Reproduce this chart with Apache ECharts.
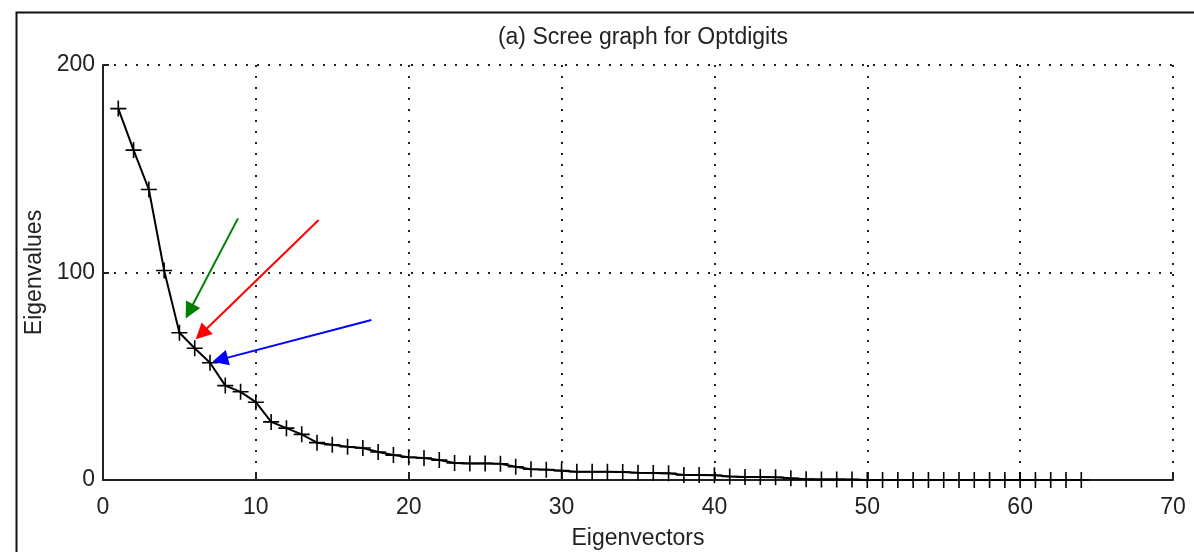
<!DOCTYPE html>
<html>
<head>
<meta charset="utf-8">
<script src="https://cdn.jsdelivr.net/npm/echarts@6/dist/echarts.min.js"></script>
<style>
html,body{margin:0;padding:0;background:#fff;}
#chart{width:1194px;height:552px;}
</style>
</head>
<body>
<div id="chart"></div>
<script>
// Component index (Eigenvectors) and eigenvalues
var eigenvectors = [];
for (var i = 1; i <= 64; i++) eigenvectors.push(i);
var eigenvalues = [179, 159, 140, 101, 71, 63.5, 56.5, 45.5, 42.5, 37.5,
  28, 25, 22, 18, 17, 16, 15.4, 13.5, 12, 11,
  10.6, 9.6, 8.2, 8, 8, 7.8, 6.4, 5.2, 5.0, 4.5,
  4.0, 4.0, 4.0, 3.8, 3.5, 3.4, 3.2, 2.4, 2.4, 2.3,
  1.7, 1.5, 1.4, 1.3, 0.8, 0.4, 0.3, 0.3, 0.2, 0,
  0, 0, 0, 0, 0, 0, 0, 0, 0, 0,
  0, 0, 0, 0];
var xTicks = [0, 10, 20, 30, 40, 50, 60, 70];
var yTicks = [0, 100, 200];
// Annotation arrows: [startX, startY] -> [headX, headY] in data units
var arrowGreen = [[8.83, 126.1], [5.65, 81.3]];
var arrowRed = [[14.11, 125.3], [6.44, 70.5]];
var arrowBlue = [[17.56, 77.1], [7.66, 58.0]];

var points = eigenvectors.map(function (x, i) { return [x, eigenvalues[i]]; });

var font = 'Liberation Sans, Arial, sans-serif';
var chart = echarts.init(document.getElementById('chart'));
chart.setOption({
  animation: false,
  backgroundColor: '#fff',
  title: {
    text: '(a) Scree graph for Optdigits',
    left: 638, top: 21, textAlign: 'center',
    textStyle: { fontFamily: font, fontSize: 23, fontWeight: 'normal', color: '#222' }
  },
  graphic: [{
    type: 'rect', left: 14, top: 10, z: -1,
    shape: { width: 1200, height: 600 },
    style: { fill: 'none', stroke: '#111', lineWidth: 2 }
  }],
  grid: { left: 103, right: 21, top: 65, bottom: 72, containLabel: false, outerBoundsMode: 'none' },
  xAxis: {
    type: 'value', min: xTicks[0], max: xTicks[xTicks.length - 1], interval: 10,
    name: 'Eigenvectors', nameLocation: 'middle', nameGap: 47,
    nameTextStyle: { fontFamily: font, fontSize: 23, color: '#222' },
    axisLine: { lineStyle: { color: '#222', width: 2 } },
    axisTick: { inside: true, length: 6, lineStyle: { color: '#222', width: 2 } },
    axisLabel: { fontFamily: font, fontSize: 23, color: '#222', margin: 16 },
    splitLine: { show: true, lineStyle: { color: '#222', width: 2, type: [2, 9] } }
  },
  yAxis: {
    type: 'value', min: yTicks[0], max: yTicks[yTicks.length - 1], interval: 100,
    name: 'Eigenvalues', nameLocation: 'middle', nameGap: 55,
    nameTextStyle: { fontFamily: font, fontSize: 23, color: '#222' },
    axisLine: { show: true, lineStyle: { color: '#222', width: 2 } },
    axisTick: { show: true, inside: true, length: 6, lineStyle: { color: '#222', width: 2 } },
    axisLabel: { fontFamily: font, fontSize: 23, color: '#222', margin: 8 },
    splitLine: { show: true, lineStyle: { color: '#222', width: 2, type: [2, 9] } }
  },
  series: [{
    type: 'line',
    data: points,
    symbol: 'path://M0,7.2H16V8.8H0ZM7.2,0H8.8V16H7.2Z',
    symbolSize: 16,
    showAllSymbol: true,
    itemStyle: { color: '#000' },
    lineStyle: { color: '#000', width: 2 },
    z: 3
  }, {
    type: 'lines',
    coordinateSystem: 'cartesian2d',
    symbol: ['none', 'triangle'],
    symbolSize: [14, 16],
    z: 4,
    data: [
      { coords: arrowGreen, lineStyle: { color: '#008000', width: 2, opacity: 1 } },
      { coords: arrowRed, lineStyle: { color: '#ff0000', width: 2, opacity: 1 } },
      { coords: arrowBlue, lineStyle: { color: '#0000ff', width: 2, opacity: 1 } }
    ]
  }]
});
</script>
</body>
</html>
